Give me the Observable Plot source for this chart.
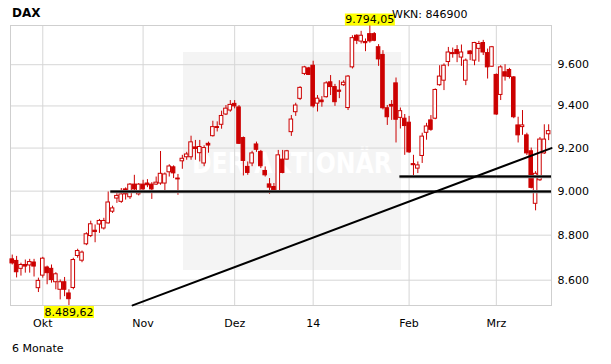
<!DOCTYPE html>
<html><head><meta charset="utf-8">
<script src="https://cdn.jsdelivr.net/npm/d3@7"></script>
<script src="https://cdn.jsdelivr.net/npm/@observablehq/plot@0.6"></script>
<style>
body{margin:0;background:#fff;}
#chart{width:611px;height:364px;overflow:hidden;}
</style></head>
<body><div id="chart"></div>
<script>
// ---- data (trading-day index 0 = 20 Sep 2013 ... 123 = 19 Mar 2014) ----
const open  = [8692,8685,8650,8667,8665,8678,8565,8620,8656,8650,8591,8558,8591,8542,8566,8707,8686,8759,8796,8820,8848,8830,8853,8906,8966,8951,9008,8972,9030,8985,9030,9035,9030,9030,9035,9035,9087,9110,9058,9138,9157,9157,9203,9176,9128,9220,9256,9299,9310,9359,9378,9410,9393,9247,9112,9128,9217,9182,9093,9031,9019,9000,9146,9146,9275,9370,9434,9555,9582,9595,9411,9426,9442,9514,9491,9474,9500,9390,9587,9743,9714,9712,9751,9751,9686,9648,9389,9405,9509,9343,9339,9320,9125,9104,9163,9272,9331,9339,9500,9522,9613,9657,9672,9635,9522,9665,9620,9678,9707,9657,9590,9550,9453,9563,9574,9538,9307,9299,9260,9185,8942,9050,9175,9265];
const high  = [8711,8705,8675,8689,8692,8692,8609,8701,8662,8667,8633,8601,8612,8558,8697,8737,8729,8811,8863,8846,8871,8876,8996,8931,8989,9012,9015,9035,9073,9035,9050,9053,9039,9065,9184,9084,9122,9117,9077,9166,9180,9256,9236,9236,9211,9228,9327,9324,9375,9402,9426,9426,9402,9252,9135,9185,9228,9189,9112,9058,9035,9189,9189,9189,9354,9413,9493,9592,9587,9617,9450,9445,9517,9547,9504,9522,9522,9547,9743,9748,9765,9727,9794.05,9759,9699,9669,9402,9426,9535,9390,9359,9350,9166,9135,9270,9317,9354,9482,9595,9604,9685,9682,9694,9697,9628,9670,9710,9715,9720,9677,9690,9555,9595,9600,9582,9542,9346,9378,9270,9200,9090,9250,9310,9310];
const low   = [8667,8610,8618,8631,8631,8614,8546,8609,8580,8587,8558,8514,8528,8489.62,8558,8697,8677,8753,8789,8766,8808,8823,8850,8898,8944,8944,8959,8962,9000,8978,9004,9016,8962,9027,9027,8989,9065,9058,8981,9101,9143,9143,9143,9135,9113,9176,9252,9276,9289,9354,9370,9386,9217,9070,9073,9113,9180,9104,9065,8985,8993,8996,9080,9143,9255,9350,9426,9547,9547,9390,9371,9394,9438,9450,9398,9435,9494,9378,9579,9699,9702,9664,9706,9713,9592,9381,9307,9331,9224,9290,9166,9175,9067,9081,9128,9237,9279,9334,9495,9474,9590,9632,9610,9592,9498,9620,9595,9612,9645,9530,9587,9355,9426,9520,9530,9339,9224,9260,9165,9010,8910,9045,9170,9235];
const close = [8674,8635,8667,8660,8680,8660,8597,8695,8631,8601,8626,8591,8558,8517,8689,8729,8722,8804,8849,8814,8864,8864,8948,8921,8978,8985,8985,9030,9008,9030,9008,9027,9008,9039,9080,9077,9114,9082,9054,9150,9170,9227,9196,9205,9200,9212,9299,9295,9352,9387,9405,9398,9220,9140,9084,9175,9192,9115,9073,9016,9004,9166,9084,9185,9335,9402,9487,9587,9550,9398,9435,9418,9509,9491,9418,9468,9512,9542,9731,9718,9743,9706,9715,9718,9626,9389,9346,9397,9334,9375,9304,9180,9120,9119,9254,9302,9286,9477,9542,9595,9660,9652,9652,9660,9620,9652,9707,9702,9660,9587,9686,9359,9587,9542,9540,9346,9260,9307,9175,9015,9080,9240,9240,9280];

const xTickIdx    = [7, 30, 51, 69, 91, 111];
const xTickLabels = ["Okt", "Nov", "Dez", "14", "Feb", "Mrz"];
const yTicks      = [8600, 8800, 9000, 9200, 9400, 9600];

const supportLevel = [8998, 9067];
const supportStart = [22.6, 88.9];
const trendIdx = [27.6, 123.65];
const trendVal = [8490, 9200];

const maxIdx = 82, maxVal = 9794.05;
const minIdx = 13, minVal = 8489.62;

// ---- build tables ----
const candles = open.map((o, i) => ({i, open: o, high: high[i], low: low[i], close: close[i], up: close[i] >= o}));
const supports = supportLevel.map((v, k) => ({v, start: supportStart[k]}));
const trend = trendIdx.map((x, k) => ({i: x, v: trendVal[k]}));
const extremes = [
  {i: maxIdx, v: maxVal, pos: "top"},
  {i: minIdx, v: minVal, pos: "bottom"}
];
const xTicks = xTickIdx.map((i, k) => ({i, label: xTickLabels[k]}));

const de = d3.formatLocale({decimal: ",", thousands: ".", grouping: [3], currency: ["", " €"]});
const fmt0 = de.format(",.0f");
const fmt2 = de.format(",.2f");

const red = "#cc0000";
const grid = "#d6d6d6";
const xMin = -0.4, xMax = 123.65;

const plot = Plot.plot({
  width: 611,
  height: 364,
  marginLeft: 10,
  marginRight: 60,
  marginTop: 25,
  marginBottom: 59,
  style: {fontFamily: "DejaVu Sans, sans-serif", fontSize: "11px", background: "white", color: "black", overflow: "visible"},
  x: {type: "linear", domain: [xMin, xMax], axis: null},
  y: {type: "log", domain: [minVal, maxVal], axis: null},
  marks: [
    Plot.gridY(yTicks, {stroke: grid, strokeOpacity: 1}),
    Plot.gridX(xTickIdx, {stroke: grid, strokeOpacity: 1}),
    Plot.frame({stroke: "#cfcfcf"}),
    // y tick labels on the right
    Plot.text(yTicks, {y: d => d, text: d => fmt0(d), frameAnchor: "right", textAnchor: "start", dx: 6, fill: "black", fontSize: 11}),
    // x tick labels
    Plot.text(xTicks, {x: "i", text: "label", frameAnchor: "bottom", lineAnchor: "top", dy: 14, fill: "black", fontSize: 11}),
    Plot.ruleX(candles, {x: "i", y1: "low", y2: "high", stroke: red, strokeWidth: 1}),
    Plot.rect(candles, {
      x1: d => d.i - 0.5, x2: d => d.i + 0.5, y1: "open", y2: "close",
      fill: d => d.up ? "white" : red, stroke: red, strokeWidth: 1,
      insetLeft: 0.4, insetRight: 0.4
    }),
    Plot.ruleY(supports, {y: "v", x1: "start", x2: xMax, stroke: "#a0a0a0", strokeWidth: 3.2}),
    Plot.ruleY(supports, {y: "v", x1: "start", x2: xMax, stroke: "black", strokeWidth: 2}),
    Plot.line(trend, {x: "i", y: "v", stroke: "black", strokeWidth: 2}),
    Plot.text(extremes, {
      x: "i", y: "v", text: d => fmt2(d.v),
      className: "extreme", fill: "black", fontSize: 11
    })
  ]
});

document.getElementById("chart").append(plot);
const svg = d3.select(plot);

// position the extreme labels just outside the frame and add yellow boxes
svg.selectAll(".extreme text").each(function(_, k) {
  const t = d3.select(this);
  const shift = extremes[k].pos === "top" ? -6 : 6.5;
  const prev = t.attr("transform") || "";
  t.attr("transform", prev + ` translate(0,${shift})`);
  const b = this.getBBox();
  d3.select(this.parentNode).insert("rect", () => this)
    .attr("x", b.x - 0.5).attr("y", b.y + 0.5)
    .attr("width", b.width + 1).attr("height", b.height - 1)
    .attr("transform", t.attr("transform"))
    .attr("fill", "#ffff00");
});

// watermark (decoration) behind grid
const wm = svg.insert("g", "g");
wm.append("rect").attr("x", 183).attr("y", 52).attr("width", 218).attr("height", 218).attr("fill", "#f4f4f4");
wm.append("text").attr("x", 292).attr("y", 172.5).attr("text-anchor", "middle")
  .attr("font-family", "DejaVu Sans Condensed, DejaVu Sans, sans-serif").attr("font-weight", "bold")
  .attr("font-size", 29).attr("textLength", 200).attr("lengthAdjust", "spacingAndGlyphs")
  .attr("fill", "white").text("DER AKTIONÄR");

// titles
const titles = svg.append("g").attr("text-anchor", "start").attr("fill", "black");
titles.append("text").attr("x", 12).attr("y", 17.3).attr("font-weight", "bold").attr("font-size", 12).text("DAX");
titles.append("text").attr("x", 392).attr("y", 18.3).attr("font-size", 11).text("WKN: 846900");
titles.append("text").attr("x", 12).attr("y", 351.7).attr("font-size", 11).text("6 Monate");
</script>
</body></html>
